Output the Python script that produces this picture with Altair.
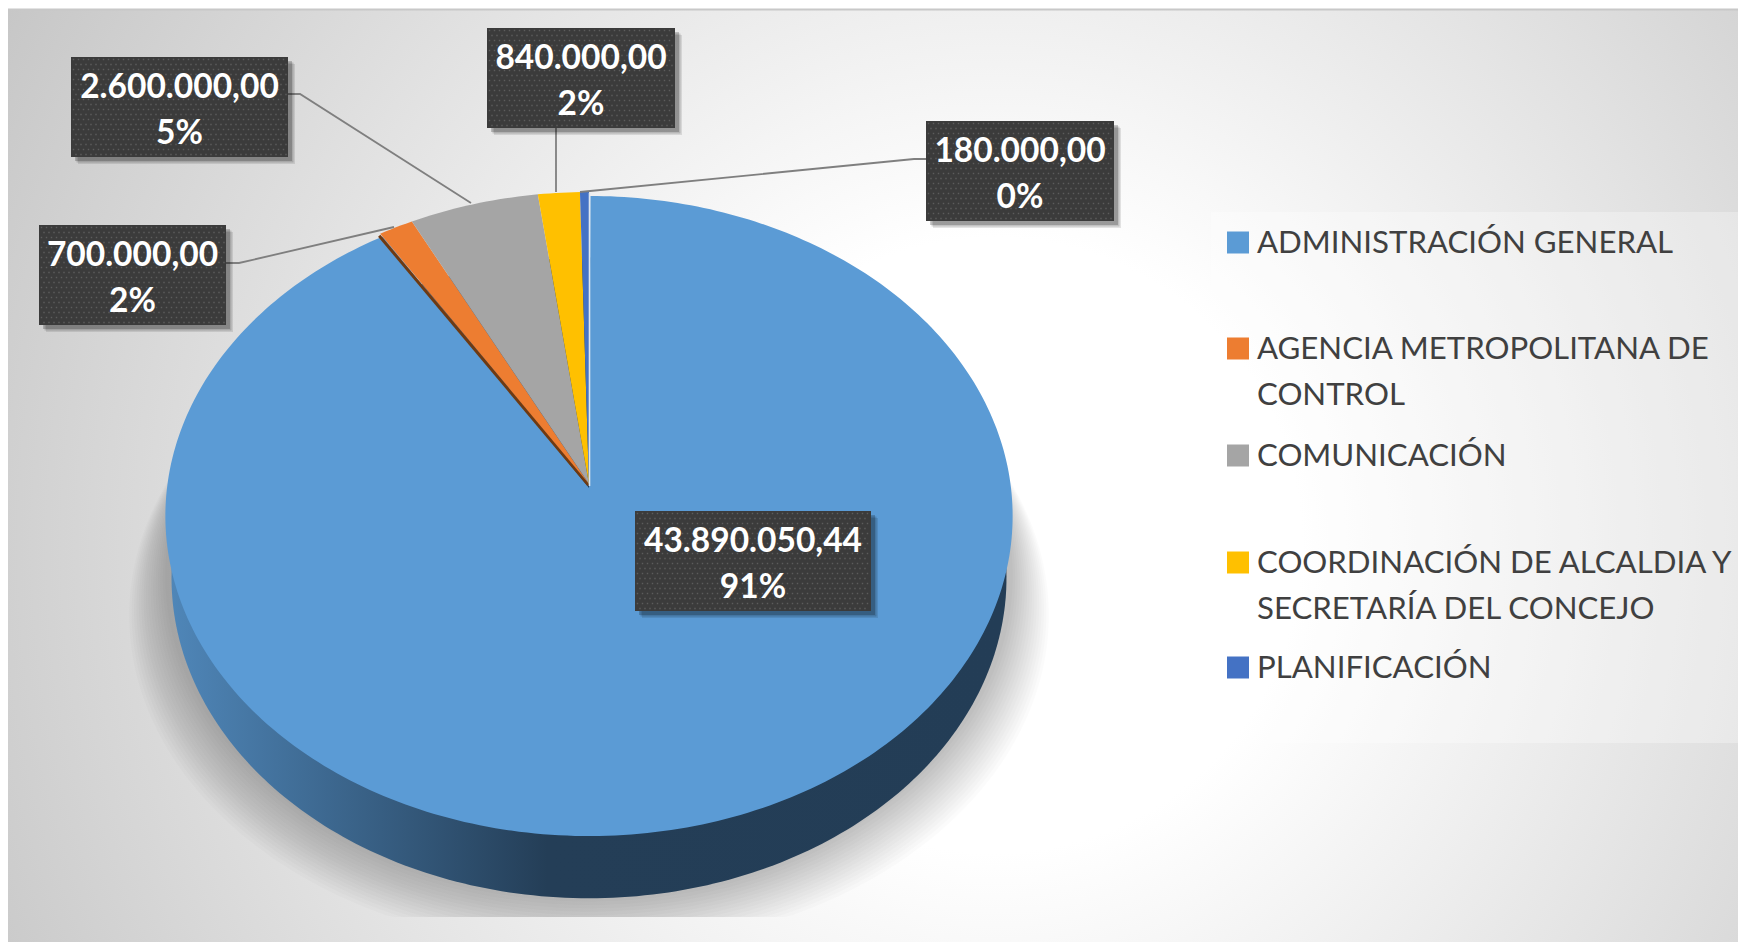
import numpy as np
import pandas as pd
import altair as alt

categories = ["ADMINISTRACIÓN GENERAL", "AGENCIA METROPOLITANA DE CONTROL", "COMUNICACIÓN",
              "COORDINACIÓN DE ALCALDIA Y SECRETARÍA DEL CONCEJO", "PLANIFICACIÓN"]
values = [43890050.44, 700000.00, 2600000.00, 840000.00, 180000.00]
value_labels = ["43.890.050,44", "700.000,00", "2.600.000,00", "840.000,00", "180.000,00"]
pct_labels = ["91%", "2%", "5%", "2%", "0%"]
legend_lines = [["ADMINISTRACIÓN GENERAL"], ["AGENCIA METROPOLITANA DE", "CONTROL"], ["COMUNICACIÓN"],
                ["COORDINACIÓN DE ALCALDIA Y", "SECRETARÍA DEL CONCEJO"], ["PLANIFICACIÓN"]]
colors = ["#5b9bd5", "#ed7d31", "#a5a5a5", "#ffc000", "#4472c4"]

# layout, in page pixels
W, H = 1730, 934
CX, AY, A, B, K = 589.0, 484.0, 422.0, 319.2, 0.0932
boxes = [(635, 871, 511, 611), (39, 226, 225, 325), (71, 288, 57, 157), (487, 675, 28, 128), (926, 1114, 121, 221)]
leaders = [None,
           [(226, 263), (239, 263), (394, 227)],
           [(288, 94), (300, 94), (471, 203)],
           [(556, 128), (556, 192)],
           [(926, 159), (914, 159), (580, 192)]]
legend_y = [244, 350, 457, 564, 669]
line_gap = 46
FONT = "Lato"

x_s = alt.Scale(domain=[8, 8 + W], nice=False, zero=False)
y_s = alt.Scale(domain=[8 + H, 8], nice=False, zero=False)
X = lambda f="x": alt.X(f"{f}:Q", scale=x_s, axis=None)
Y = lambda f="y": alt.Y(f"{f}:Q", scale=y_s, axis=None)


def project(theta, cx=CX, ay=AY, a=A, b=B, k=K):
    u, v = np.sin(theta), np.cos(theta)
    d = 1 + k * v
    return cx + a * u / d, ay - b * v / d


def ring(cx=CX, ay=AY, a=A, b=B, k=K, ymax=None):
    t = np.radians(np.arange(0, 360, 1.0))
    x, y = project(t, cx, ay, a, b, k)
    if ymax is not None:
        y = np.minimum(y, ymax)
    return x, y


def poly(x, y, fill, opacity=1.0):
    df = pd.DataFrame({"x": x, "y": y, "i": np.arange(len(x))})
    return alt.Chart(df).mark_line(fill=fill, fillOpacity=opacity, strokeWidth=0, stroke="transparent",
                                   interpolate="linear-closed").encode(x=X(), y=Y(), order="i:Q")


def sector(t0, t1, fill, ay=AY, b=B, k=K, cx=CX):
    t = np.radians(np.linspace(t0, t1, max(2, int(abs(t1 - t0)) + 2)))
    x, y = project(t, cx=cx, ay=ay, b=b, k=k)
    return poly(np.r_[cx, x], np.r_[ay, y], fill)


def segment(p, q, color, width):
    df = pd.DataFrame({"x": [p[0], q[0]], "y": [p[1], q[1]], "i": [0, 1]})
    return alt.Chart(df).mark_line(color=color, strokeWidth=width).encode(x=X(), y=Y(), order="i:Q")


layers = []
# panel
bg = alt.Chart(pd.DataFrame({"x": [8], "x2": [8 + W], "y": [10], "y2": [8 + H]})).mark_rect(
    fill={"gradient": "radial", "x1": 0.57, "y1": 0.54, "x2": 0.57, "y2": 0.54, "r1": 0, "r2": 0.74,
          "stops": [{"offset": 0, "color": "#ffffff"}, {"offset": 0.24, "color": "#ffffff"},
                    {"offset": 1, "color": "#bcbcbc"}]}).encode(x=X(), x2="x2:Q", y=Y(), y2="y2:Q")
layers.append(bg)
top = alt.Chart(pd.DataFrame({"x": [8], "x2": [8 + W], "y": [9.5]})).mark_rule(color="#c8c8c8", strokeWidth=2).encode(
    x=X(), x2="x2:Q", y=Y())
layers.append(top)

# legend panel
lp = alt.Chart(pd.DataFrame({"x": [1211], "x2": [8 + W], "y": [212], "y2": [743]})).mark_rect(
    fill="white", opacity=0.3).encode(x=X(), x2="x2:Q", y=Y(), y2="y2:Q")
layers.append(lp)

# shadow below the pie
for s in np.linspace(1.085, 1.0, 16):
    x, y = ring(a=A * s, b=B * (1 + (s - 1) * 0.45), ay=AY + 62 + (s - 1) * 450, ymax=917)
    layers.append(poly(x, y, "#000000", 0.016))

# side wall
x, y = ring(a=A * 0.985, b=B * 0.995, ay=AY + 64)
wall = {"gradient": "linear", "x1": 0, "y1": 0, "x2": 1, "y2": 0,
        "stops": [{"offset": 0, "color": "#4f86b8"}, {"offset": 0.45, "color": "#243e57"},
                  {"offset": 1, "color": "#233d56"}]}
layers.append(poly(x, y, wall))

# top surface
total = sum(values)
sweeps = np.array(values) / total * 360.0
edges = np.r_[0, np.cumsum(sweeps)]
layers.append(sector(edges[0] + 0.2, edges[1] + 0.6, colors[0], ay=AY + 4, b=317.6, k=0.0875))
ox, oy = project(np.radians(edges[1]))
layers.append(segment((CX - 0.5, AY + 1), (ox - 1, oy + 2), "#6e3a12", 3))
for i in range(1, 5):
    layers.append(sector(edges[i], edges[i + 1], colors[i]))
layers.append(segment((CX + 0.5, AY + 2), (CX + 0.5, 193), "#dde7f0", 1.6))

# leaders
rows = []
for n, pts in enumerate(leaders):
    if pts:
        for j, (a, b) in enumerate(pts):
            rows.append({"x": a, "y": b, "g": n, "i": j})
layers.append(alt.Chart(pd.DataFrame(rows)).mark_line(color="#7f7f7f", strokeWidth=1.8).encode(
    x=X(), y=Y(), detail="g:N", order="i:Q"))

# label boxes
bx = pd.DataFrame(boxes, columns=["x", "x2", "y", "y2"])
for off, op in [(7, 0.10), (5.5, 0.15), (4, 0.2)]:
    sh = bx + off
    layers.append(alt.Chart(sh).mark_rect(fill="#000000", opacity=op).encode(x=X(), x2="x2:Q", y=Y(), y2="y2:Q"))
layers.append(alt.Chart(bx).mark_rect(fill="#3b3b3b").encode(x=X(), x2="x2:Q", y=Y(), y2="y2:Q"))

# dotted texture of the label boxes
dots = []
for x0, x1, y0, y1 in boxes:
    for r, yy in enumerate(np.arange(y0 + 2.5, y1 - 1, 5.0)):
        for xx in np.arange(x0 + 2.5 + (r % 2) * 2.5, x1 - 1, 5.0):
            dots.append((xx, yy))
layers.append(alt.Chart(pd.DataFrame(dots, columns=["x", "y"])).mark_square(
    size=2.2, color="#5c5c5c", opacity=1).encode(x=X(), y=Y()))

txt = []
for n, (x0, x1, y0, y1) in enumerate(boxes):
    cx, cy = (x0 + x1) / 2, (y0 + y1) / 2
    txt.append({"x": cx, "y": cy - line_gap / 2 + 3.5, "t": value_labels[n]})
    txt.append({"x": cx, "y": cy + line_gap / 2 + 3.5, "t": pct_labels[n]})
layers.append(alt.Chart(pd.DataFrame(txt)).mark_text(font=FONT, fontSize=33.5, fontWeight="bold", color="white").encode(
    x=X(), y=Y(), text="t:N"))

# legend
sq = pd.DataFrame({"x": 1227, "x2": 1249, "y": np.array(legend_y) - 12.5, "y2": np.array(legend_y) + 9.5, "c": colors})
layers.append(alt.Chart(sq).mark_rect().encode(x=X(), x2="x2:Q", y=Y(), y2="y2:Q",
                                               fill=alt.Fill("c:N", scale=None)))
ltxt = []
for n, lines in enumerate(legend_lines):
    for j, s in enumerate(lines):
        ltxt.append({"x": 1257, "y": legend_y[n] + j * line_gap, "t": s})
layers.append(alt.Chart(pd.DataFrame(ltxt)).mark_text(font=FONT, fontSize=31.2, color="#404040", align="left").encode(
    x=X(), y=Y(), text="t:N"))

chart = alt.layer(*layers).properties(width=W, height=H, padding=0, background="white",
                                      autosize=alt.AutoSizeParams(type="none")).configure_view(stroke=None)
chart.save("out.html", embed_options={"renderer": "svg", "actions": False})
